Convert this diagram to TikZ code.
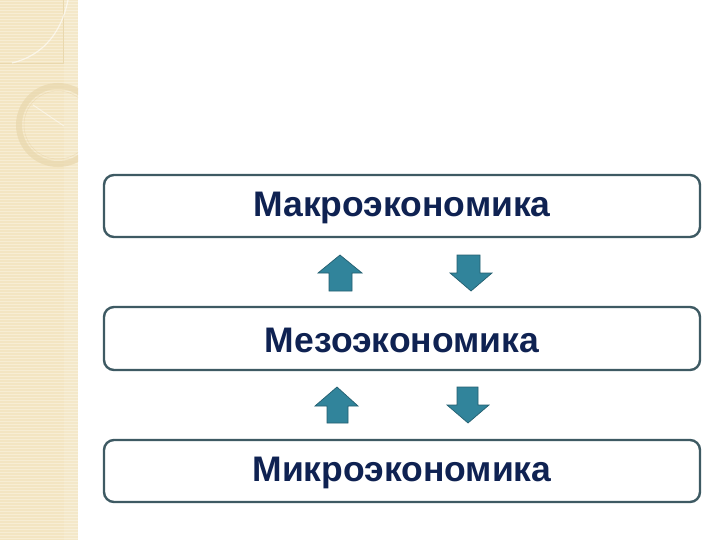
\documentclass[tikz,border=0pt]{standalone}
\usepackage{fontspec}
\setmainfont{Liberation Sans}
\begin{document}
\begin{tikzpicture}[x=1pt,y=-1pt,
  levelbox/.style={draw=boxline,line width=2.4pt,rounded corners=10pt,fill=white},
  leveltext/.style={font=\fontsize{35.5}{40}\selectfont\bfseries,text=textnavy},
  blockarrow/.style={fill=arrowfill,draw=arrowline,line width=0.7pt,line join=miter}]
\definecolor{boxline}{HTML}{3E5A63}
\definecolor{arrowfill}{HTML}{31849B}
\definecolor{arrowline}{HTML}{245F70}
\definecolor{textnavy}{HTML}{0F2252}
\definecolor{stripbg}{HTML}{F3E5C2}
\definecolor{stripline}{HTML}{F7EDD4}
\definecolor{stripdark}{HTML}{E9D8AE}
\useasboundingbox (0,0) rectangle (720,540);
\fill[white] (0,0) rectangle (720,540);
% decorative strip
\fill[stripbg] (0,0) rectangle (78,540);
\foreach \yy in {1,4,...,540} {\draw[stripline,line width=0.8pt] (0,\yy) -- (78,\yy);}
\fill[white,opacity=0.12] (64,0) rectangle (78,540);
\draw[stripdark,line width=0.6pt] (0,63) -- (63,63) -- (63,0);
\draw[white,opacity=0.6,line width=1.2pt] (12,63) .. controls (45,55) and (62,30) .. (68,0);
\begin{scope}
\clip (0,0) rectangle (78,540);
\draw[stripdark,line width=6pt,opacity=0.7] (58,125) circle[radius=39];
\draw[stripdark!85!brown,line width=0.5pt,opacity=0.4] (58,125) circle[radius=34];
\draw[white,opacity=0.5,line width=1pt] (33,105) -- (64,126);
\end{scope}
% level boxes
\draw[levelbox] (104,175) rectangle (700,237);
\node[leveltext] (macro) at (402,208) {Макроэкономика};
\draw[levelbox] (104,307) rectangle (700,370);
\node[leveltext] (meso) at (402,340) {Мезоэкономика};
\draw[levelbox] (104,440) rectangle (700,502);
\node[leveltext] (micro) at (402,473) {Микроэкономика};
% arrows between macro and meso
\draw[blockarrow] (340,255) -- (362,273) -- (352,273) -- (352,291) -- (329,291) -- (329,273) -- (318,273) -- cycle;
\draw[blockarrow] (471,291) -- (492,273) -- (480,273) -- (480,255) -- (457,255) -- (457,273) -- (450,273) -- cycle;
% arrows between meso and micro
\draw[blockarrow] (337,387) -- (358,406) -- (348,406) -- (348,423) -- (327,423) -- (327,406) -- (315,406) -- cycle;
\draw[blockarrow] (468,423) -- (489,405) -- (478,405) -- (478,387) -- (457,387) -- (457,405) -- (447,405) -- cycle;
\end{tikzpicture}
\end{document}
